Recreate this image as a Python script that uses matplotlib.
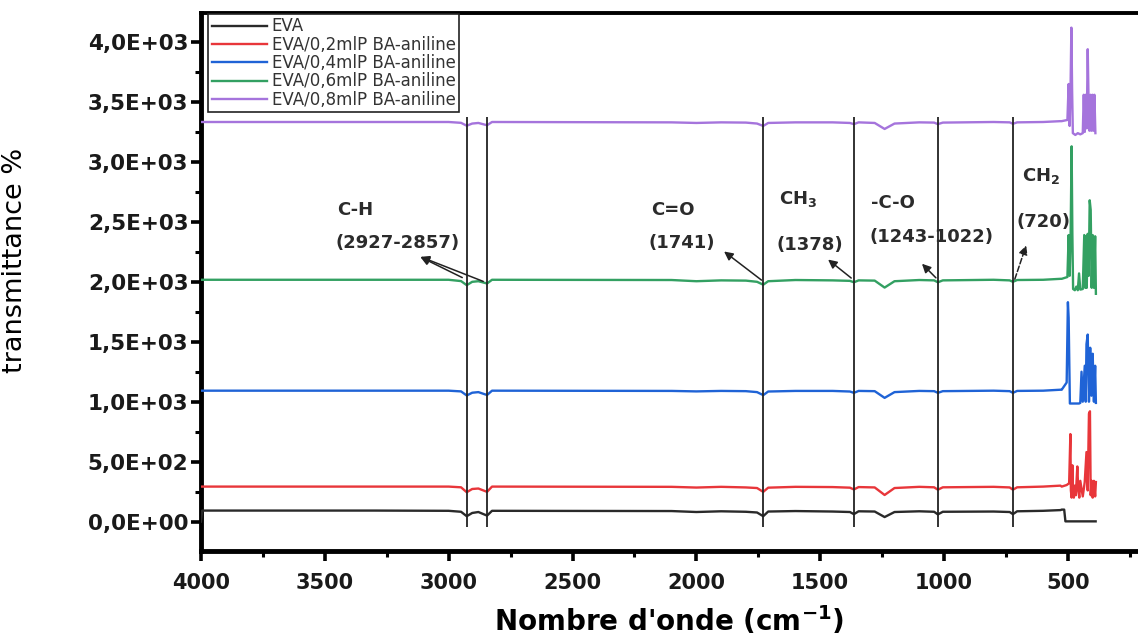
import matplotlib.pyplot as plt
from matplotlib.ticker import MultipleLocator, FuncFormatter

# shared wavenumber grid for the flat part of the spectra (cm-1)
wn_body = [4000, 3995, 3300, 3000, 2950, 2927, 2905, 2880, 2845, 2825, 2100, 2000,
           1900, 1800, 1755, 1730, 1710, 1600, 1450, 1380, 1364, 1345, 1280, 1240,
           1200, 1100, 1040, 1025, 1005, 800, 735, 722, 705, 600, 530]

eva_body = [0, 92, 92, 90, 82, 45, 72, 80, 50, 90, 88, 80, 86, 82, 76, 45, 84, 88,
            84, 80, 62, 86, 84, 38, 80, 86, 82, 60, 82, 84, 80, 62, 86, 90, 96]
eva02_body = [292, 292, 292, 292, 286, 245, 272, 276, 248, 292, 290, 284, 290, 285,
              280, 248, 283, 290, 288, 283, 268, 288, 285, 222, 280, 290, 286, 266,
              286, 290, 285, 266, 286, 292, 300]
eva04_body = [1092, 1092, 1092, 1092, 1086, 1052, 1075, 1080, 1056, 1092, 1090, 1086,
              1090, 1088, 1080, 1055, 1085, 1090, 1090, 1085, 1074, 1090, 1088, 1032,
              1080, 1090, 1088, 1074, 1088, 1092, 1088, 1074, 1090, 1092, 1100]
eva06_body = [2017, 2017, 2017, 2017, 2006, 1972, 2000, 2005, 1986, 2017, 2015, 2005,
              2012, 2010, 2000, 1976, 2005, 2015, 2012, 2008, 1996, 2012, 2010, 1952,
              2005, 2015, 2012, 1996, 2012, 2017, 2012, 2000, 2015, 2017, 2025]
eva08_body = [3333, 3333, 3333, 3333, 3326, 3302, 3320, 3325, 3306, 3333, 3330, 3325,
              3330, 3328, 3320, 3300, 3325, 3330, 3330, 3325, 3315, 3330, 3325, 3275,
              3320, 3330, 3328, 3315, 3328, 3333, 3330, 3318, 3330, 3333, 3340]

# low-wavenumber end of each spectrum
eva_tail_wn = [525, 515, 510, 388]
eva_tail = [100, 100, 2, 2]
eva02_tail_wn = [525, 505, 495, 490, 488, 485, 482, 479, 476, 473, 468, 462, 458, 454,
                 450, 440, 432, 425, 420, 415, 411, 408, 404, 400, 395, 390, 387]
eva02_tail = [292, 305, 320, 730, 260, 200, 470, 230, 200, 300, 220, 460, 260, 200,
              340, 210, 330, 580, 260, 900, 920, 220, 340, 200, 340, 210, 330]
eva04_tail_wn = [525, 515, 505, 500, 497, 492, 470, 455, 450, 445, 440, 432, 428, 425,
                 420, 415, 410, 405, 400, 395, 390, 387]
eva04_tail = [1100, 1130, 1160, 1830, 1700, 985, 985, 985, 990, 1250, 1000, 1300, 1000,
              1480, 1560, 1000, 1450, 1050, 1400, 1000, 1300, 990]
eva06_tail_wn = [525, 502, 497, 493, 489, 485, 482, 479, 472, 466, 460, 455, 450, 440,
                 434, 430, 427, 424, 420, 416, 412, 408, 404, 400, 395, 390, 387]
eva06_tail = [2025, 2040, 2390, 2050, 2390, 3130, 2400, 1940, 1930, 1960, 1930, 2070,
              1935, 1940, 2390, 1950, 2380, 1950, 2400, 2050, 2680, 2600, 1950, 2390,
              1950, 2380, 1900]
eva08_tail_wn = [525, 502, 497, 493, 489, 486, 483, 480, 470, 460, 450, 440, 436, 432,
                 428, 424, 420, 417, 413, 409, 405, 401, 397, 393, 389]
eva08_tail = [3340, 3350, 3650, 3300, 3660, 4120, 3600, 3240, 3225, 3240, 3230, 3240,
              3560, 3250, 3560, 3280, 3940, 3560, 3260, 3560, 3260, 3560, 3260, 3560, 3240]

labels = ['EVA', 'EVA/0,2mlP BA-aniline', 'EVA/0,4mlP BA-aniline',
          'EVA/0,6mlP BA-aniline', 'EVA/0,8mlP BA-aniline']
colors = ['#2a2a2a', '#e8363a', '#1f63d6', '#33a062', '#a574dc']

# band marker lines (as drawn) and their annotations
band_pos = [2927, 2845, 1730, 1364, 1025, 722]
band_labels = [('C-H', 3378, 2600), ('(2927-2857)', 3205, 2325),
               ('C=O', 2095, 2600), ('(1741)', 2058, 2325),
               ('CH$_3$', 1590, 2690), ('(1378)', 1541, 2308),
               ('-C-O', 1206, 2658), ('(1243-1022)', 1049, 2375),
               ('CH$_2$', 610, 2880), ('(720)', 600, 2500)]
# arrows: (tail x, tail y, head x, head y, linestyle)
band_arrows = [(2935, 2025, 3124, 2217, '-'), (2850, 1995, 3124, 2217, '-'),
               (1728, 2000, 1897, 2267, '-'), (1366, 2017, 1477, 2200, '-'),
               (1025, 2017, 1097, 2167, '-'), (718, 2000, 665, 2325, '--')]

plt.rcParams['mathtext.default'] = 'bf'

fig = plt.figure(figsize=(11.38, 6.38), dpi=100)
ax = fig.add_axes([0.1766, 0.1364, 0.8234, 0.8432])

series = [(eva_body, eva_tail_wn, eva_tail), (eva02_body, eva02_tail_wn, eva02_tail),
          (eva04_body, eva04_tail_wn, eva04_tail), (eva06_body, eva06_tail_wn, eva06_tail),
          (eva08_body, eva08_tail_wn, eva08_tail)]
for (body, twn, tail), lab, col in zip(series, labels, colors):
    ax.plot(wn_body + twn, body + tail, color=col, lw=1.7, label=lab, zorder=3)

ax.vlines(band_pos, -45, 3375, color='#222222', lw=1.3, zorder=4)

for txt, x, y in band_labels:
    ax.text(x, y, txt, ha='center', va='center', fontsize=13, fontweight='bold',
            color='#2b2b2b', zorder=5)
for x0, y0, x1, y1, ls in band_arrows:
    ax.annotate('', xy=(x1, y1), xytext=(x0, y0),
                arrowprops=dict(arrowstyle='-|>', color='#222222', lw=1.1,
                                linestyle=ls, mutation_scale=13), zorder=5)

ax.set_xlim(4000, 217)
ax.set_ylim(-245, 4242)
ax.xaxis.set_major_locator(MultipleLocator(500))
ax.xaxis.set_minor_locator(MultipleLocator(250))
ax.yaxis.set_major_locator(MultipleLocator(500))
ax.yaxis.set_minor_locator(MultipleLocator(250))
ax.yaxis.set_major_formatter(FuncFormatter(lambda v, p: ('%.1E' % v).replace('.', ',')))

ax.spines['right'].set_visible(False)
ax.spines['left'].set_linewidth(3.5)
ax.spines['bottom'].set_linewidth(3.5)
ax.spines['top'].set_linewidth(2.8)
ax.tick_params(which='major', direction='out', length=7, width=2.6, color='black')
ax.tick_params(which='minor', direction='out', length=4, width=2.2, color='black')
ax.tick_params(axis='y', pad=2)
ax.tick_params(axis='x', pad=9)
for t in ax.get_yticklabels():
    t.set_fontweight('bold')
    t.set_fontsize(15.5)
    t.set_color('#1a1a1a')
for t in ax.get_xticklabels():
    t.set_fontweight('bold')
    t.set_fontsize(15)
    t.set_color('#1a1a1a')

ax.set_xlabel("Nombre d'onde (cm$^{-1}$)", fontsize=20, fontweight='bold', labelpad=8)
ax.set_ylabel('transmittance %', fontsize=19.5)
ax.yaxis.set_label_coords(-0.185, 0.54)

leg = ax.legend(loc='upper left', bbox_to_anchor=(0.008, 0.998), borderaxespad=0,
                handlelength=3.3, handletextpad=0.3,
                labelspacing=0.02, borderpad=0.2, fancybox=False, framealpha=1,
                edgecolor='#222222', prop={'family': 'DejaVu Sans', 'size': 12})
leg.get_frame().set_linewidth(1.2)
for t in leg.get_texts():
    t.set_color('#333333')

fig.savefig('out.png', dpi=100)
